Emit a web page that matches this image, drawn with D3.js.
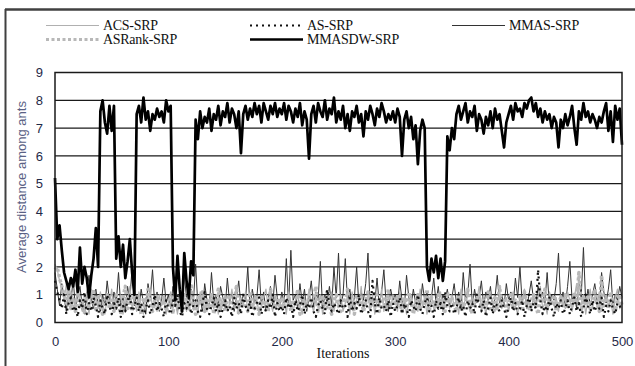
<!DOCTYPE html>
<html>
<head>
<meta charset="utf-8">
<script src="https://cdn.jsdelivr.net/npm/d3@7"></script>
<style>
  body { margin: 0; background: #fff; }
  svg { display: block; }
</style>
</head>
<body>
<div id="chart"></div>
<script>
// values sampled every 2 iterations (0, 2, ..., 500)
const iterations = d3.range(0, 501, 2);
const xTicks = [0, 100, 200, 300, 400, 500];
const yTicks = [0, 1, 2, 3, 4, 5, 6, 7, 8, 9];
const seriesNames = ['ACS-SRP', 'AS-SRP', 'MMAS-SRP', 'ASRank-SRP', 'MMASDW-SRP'];

const acsSrp = [
  2.1,1.9,1.5,1.2,0.8,1.4,0.6,1.1,0.9,0.5,1.3,0.7,0.4,1.0,0.8,0.3,1.2,0.6,0.9,0.5,1.1,0.7,0.3,0.9,0.6,
  1.2,0.4,0.8,0.6,1.0,0.3,0.9,0.7,1.3,0.5,0.8,0.4,1.1,0.6,0.3,0.9,0.7,1.2,0.5,0.8,0.4,1.0,0.6,0.9,0.3,
  0.7,1.1,0.5,0.8,0.3,1.0,0.6,0.9,0.4,1.3,0.7,0.5,0.8,0.3,1.1,0.6,0.9,0.4,0.7,1.0,0.5,0.8,0.3,0.9,0.6,
  1.0,0.4,0.7,1.2,0.5,0.8,0.3,0.9,0.6,1.1,0.4,0.7,0.5,1.0,0.8,0.3,0.6,0.9,1.2,0.5,0.7,0.4,1.0,0.6,0.8,
  0.5,0.9,0.3,1.1,0.7,0.4,0.8,1.0,0.6,0.3,0.9,0.5,1.2,0.7,0.4,0.8,0.6,1.0,0.3,0.7,0.5,0.9,1.1,0.4,0.8,
  0.6,1.0,0.4,0.7,0.9,0.3,1.1,0.5,0.8,0.6,1.3,0.4,0.7,0.9,0.5,1.0,0.3,0.8,0.6,1.2,0.4,0.7,0.9,0.5,1.0,
  0.8,0.4,1.1,0.6,0.9,0.3,0.7,1.0,0.5,0.8,0.4,1.2,0.6,0.9,0.3,0.7,1.0,0.5,0.8,0.6,1.1,0.4,0.7,0.9,0.5,
  1.0,0.6,0.8,0.3,1.2,0.5,0.9,0.7,0.4,1.0,0.6,0.8,1.3,0.5,0.7,0.3,0.9,1.1,0.6,0.4,0.8,1.0,0.5,0.7,0.9,
  0.4,0.8,1.1,0.6,0.3,0.9,0.7,1.2,0.5,0.8,0.4,1.0,0.6,0.9,1.3,0.5,0.7,0.3,1.1,0.8,0.6,0.9,0.4,1.0,0.7,
  0.5,1.1,0.8,0.4,0.9,1.4,0.6,0.7,1.0,0.3,0.8,1.2,0.5,0.9,0.6,1.1,0.4,0.7,1.0,0.6,0.8,0.3,0.9,1.2,0.5,
  0.7
];

const asSrp = [
  1.5,1.1,0.8,0.5,1.0,0.3,0.7,0.9,0.4,0.6,0.2,0.8,0.5,1.1,0.3,0.7,0.4,0.9,0.6,0.2,0.8,0.5,0.3,1.0,0.6,
  0.3,0.7,0.5,0.9,0.2,0.6,0.4,0.8,1.0,0.3,0.6,0.9,0.4,0.7,0.2,0.5,0.8,0.3,0.6,1.0,0.4,0.7,0.5,0.2,0.8,
  0.5,0.3,0.8,0.6,1.0,0.4,0.2,0.7,0.5,0.9,0.3,0.6,0.8,0.4,0.2,0.7,1.1,0.5,0.3,0.6,0.9,0.4,0.7,0.2,0.5,
  0.8,0.4,0.6,0.2,0.9,0.5,0.7,0.3,1.0,0.6,0.4,0.8,0.2,0.5,0.7,0.9,0.3,0.6,0.4,0.8,0.5,1.0,0.2,0.7,0.4,
  0.6,0.3,0.9,0.5,0.7,0.2,0.8,0.4,0.6,1.0,0.3,0.7,0.5,0.9,0.4,0.2,0.6,0.8,0.5,0.3,1.2,0.6,0.4,0.7,0.5,
  0.3,0.8,0.5,0.6,0.2,0.9,0.4,0.7,0.5,1.0,0.3,0.6,0.8,0.4,0.2,1.5,0.7,0.3,0.9,0.5,0.6,0.4,0.8,0.2,0.7,
  0.4,0.6,0.9,0.3,0.7,0.5,0.2,0.8,0.6,0.4,1.0,0.5,0.3,0.7,0.9,0.4,0.6,0.2,0.8,0.5,0.7,0.3,1.1,0.6,0.4,
  0.7,0.3,0.5,0.9,0.4,0.6,0.2,0.8,0.5,0.7,0.3,1.0,0.6,0.4,0.8,0.2,0.5,0.9,0.3,0.7,0.6,0.4,0.8,0.5,0.2,
  0.6,0.9,0.4,0.7,0.3,0.5,0.8,0.2,0.6,1.0,0.4,0.7,0.5,1.9,0.8,0.3,0.6,0.4,0.9,0.5,0.2,0.7,0.5,0.8,0.3,
  0.5,0.8,0.3,0.6,0.9,0.4,0.7,0.2,0.5,1.0,0.6,0.3,0.8,0.4,0.7,0.5,0.9,0.2,0.6,0.4,0.8,0.5,0.3,0.7,0.6,
  0.4
];

const mmasSrp = [
  1.8,1.2,0.6,1.4,0.9,0.4,1.1,0.7,1.6,0.5,0.9,1.3,0.6,0.3,1.0,1.7,0.8,0.5,1.2,0.7,0.4,1.0,0.6,1.5,0.8,
  0.5,1.1,0.7,1.8,0.6,0.9,0.4,1.3,0.8,2.0,0.6,1.0,0.5,1.2,0.7,0.3,1.4,0.9,1.9,0.6,1.1,0.4,0.8,1.6,0.7,
  1.0,0.5,1.3,0.8,0.4,1.1,0.6,1.7,0.9,0.5,1.2,0.7,2.1,0.6,0.9,0.4,1.4,0.8,0.5,1.8,0.7,1.0,0.6,1.3,0.9,
  0.5,1.6,0.7,1.1,0.4,0.9,1.5,0.6,1.0,0.8,2.0,0.5,1.2,0.7,0.9,1.9,0.6,1.1,0.4,0.8,1.3,0.6,1.7,0.9,0.5,
  1.1,0.7,2.3,0.6,2.6,0.8,1.0,0.5,1.4,0.7,1.2,0.4,0.9,1.5,0.6,1.1,0.8,2.2,0.5,1.0,0.7,1.3,0.6,2.0,0.9,
  2.5,0.6,1.0,2.3,0.7,1.2,0.5,0.9,2.0,0.6,1.1,0.8,1.4,2.5,0.5,0.9,0.7,1.6,0.6,1.1,1.9,0.7,0.4,1.2,0.8,
  1.0,0.6,1.5,0.8,0.5,1.7,0.9,0.6,1.2,0.7,1.0,0.5,1.4,0.8,1.1,0.6,0.9,1.6,0.7,1.3,0.5,1.0,0.8,1.2,0.6,
  0.9,1.4,0.7,1.1,0.5,1.8,0.8,1.0,2.1,0.6,1.2,0.7,0.9,1.5,0.6,1.1,0.8,1.3,0.5,0.9,1.7,0.7,1.0,0.6,1.4,
  0.8,1.1,0.6,1.6,0.9,2.0,0.7,1.2,0.5,1.0,1.5,0.8,0.6,1.3,0.9,1.1,0.7,1.8,0.6,1.0,0.8,1.4,2.5,0.7,1.1,
  0.6,1.3,2.2,0.8,1.0,0.5,1.6,0.9,2.7,0.7,1.2,0.6,1.0,1.4,0.8,0.5,1.8,1.1,0.7,1.2,1.9,0.6,1.0,0.8,1.3,
  0.9
];

const asRankSrp = [
  1.9,2.0,1.6,1.3,1.0,0.7,1.2,0.5,0.9,0.4,1.1,0.6,0.8,0.3,1.0,0.5,0.7,1.2,0.4,0.9,0.6,0.3,0.8,1.0,0.5,
  0.8,0.4,1.0,0.6,0.3,0.9,1.3,0.5,0.7,0.4,1.1,0.6,0.8,0.3,0.9,0.5,1.2,0.7,0.4,0.8,1.0,0.5,0.6,0.9,0.4,
  0.6,0.9,0.3,1.1,0.5,0.8,0.4,1.0,0.7,0.5,1.4,0.6,0.3,0.9,0.7,1.1,0.4,0.8,0.6,1.0,0.3,0.7,1.2,0.5,0.8,
  0.4,0.8,1.0,0.5,0.7,1.3,0.3,0.9,0.6,0.8,0.4,1.1,0.7,0.5,0.9,0.3,1.0,0.6,0.8,0.4,1.2,0.7,0.5,0.9,0.6,
  0.9,0.5,0.7,1.0,0.4,0.8,0.6,1.2,0.3,0.9,0.7,0.5,1.0,0.6,0.8,1.3,0.4,0.7,0.9,0.5,1.1,0.6,0.3,0.8,1.0,
  0.6,0.4,0.9,0.7,1.2,0.5,0.8,0.3,1.0,0.6,0.9,0.4,0.7,1.1,0.5,0.8,0.6,1.0,0.4,0.7,0.9,0.5,1.2,0.6,0.8,
  0.5,1.0,0.7,0.4,0.9,0.6,1.1,0.8,0.3,0.7,1.0,0.5,0.8,0.6,1.2,0.4,0.9,0.7,0.5,1.0,0.6,0.8,0.4,1.1,0.7,
  0.9,0.6,0.4,1.0,0.7,0.5,0.8,1.2,0.6,0.3,0.9,0.7,1.0,0.5,0.8,0.6,1.1,0.4,0.7,0.9,0.5,1.3,0.6,0.8,0.4,
  0.7,1.0,0.5,0.8,0.6,0.9,0.4,1.1,0.7,0.5,0.8,1.0,0.6,0.3,0.9,0.7,1.2,0.5,0.8,0.6,1.0,0.4,0.7,0.9,0.6,
  1.0,0.5,0.8,0.6,1.1,0.7,1.8,0.4,0.9,0.6,1.0,0.5,0.8,1.2,0.7,0.4,1.7,0.6,0.9,0.5,1.1,0.7,0.4,0.8,1.0,
  0.6
];

const mmasdwSrp = [
  5.2,3.0,3.5,2.6,1.8,1.5,1.2,1.6,1.3,1.9,1.1,2.7,1.4,2.0,1.6,0.9,1.7,2.3,3.4,2.0,7.6,8.0,7.2,6.8,7.8,
  6.9,7.8,2.3,3.1,2.0,2.8,1.6,2.2,3.0,1.8,1.0,7.5,7.8,7.2,8.1,7.3,7.6,6.9,7.5,7.3,7.7,7.4,7.6,7.2,8.0,
  7.6,7.8,2.0,0.8,2.4,1.2,0.4,2.5,1.5,0.9,2.2,1.7,7.3,6.6,7.6,7.0,7.4,7.2,7.7,6.9,7.5,7.3,7.8,7.1,7.6,
  7.4,7.9,7.2,7.7,7.5,7.0,7.6,6.1,7.5,7.8,7.3,7.7,7.4,7.9,7.5,7.8,7.2,7.9,7.6,7.3,7.8,7.5,7.9,7.4,7.7,
  7.5,7.9,7.3,7.8,7.6,7.2,7.7,7.4,7.9,7.1,7.6,7.3,5.9,7.5,7.8,7.2,7.9,7.6,7.4,8.0,7.3,7.7,7.5,8.1,7.2,
  7.6,7.3,7.8,7.0,7.5,6.9,7.6,7.4,7.8,7.2,7.5,6.7,7.6,7.3,7.8,7.5,7.1,7.7,7.4,7.9,7.6,7.2,7.5,7.3,7.6,
  7.2,7.7,7.4,6.0,7.3,7.6,7.0,7.4,6.6,7.1,5.7,6.9,7.3,7.0,2.0,1.5,2.3,1.8,2.4,1.6,2.3,1.5,2.2,6.7,6.2,
  7.0,6.6,7.5,7.8,7.3,7.6,7.9,7.2,7.6,7.4,7.8,6.9,7.5,7.3,6.8,7.4,7.1,7.6,7.0,7.7,7.3,7.5,6.9,6.3,7.2,
  7.5,7.8,7.3,7.9,7.6,7.7,7.4,7.9,7.7,8.0,8.1,7.6,7.9,7.4,7.7,7.2,7.6,7.3,7.5,7.0,7.4,7.2,6.3,7.3,7.0,
  7.5,7.1,7.4,7.8,7.0,6.4,7.6,7.3,7.9,7.4,7.6,7.2,7.5,7.3,7.0,7.4,7.2,7.6,7.9,6.9,7.6,6.5,7.8,7.3,7.7,
  6.4
];

const width = 635, height = 366;
const margin = { top: 72.5, right: 13, bottom: 43.5, left: 55 };

const svg = d3.select('#chart')
  .append('svg')
  .attr('width', width)
  .attr('height', height);

// outer frame (top and left edges visible)
svg.append('line')
  .attr('x1', 5).attr('x2', width).attr('y1', 9.5).attr('y2', 9.5)
  .attr('stroke', '#404040').attr('stroke-width', 2.5);
svg.append('line')
  .attr('x1', 5.5).attr('x2', 5.5).attr('y1', 9).attr('y2', height)
  .attr('stroke', '#404040').attr('stroke-width', 2);

const x = d3.scaleLinear()
  .domain([0, 500])
  .range([margin.left, width - margin.right]);

const y = d3.scaleLinear()
  .domain([0, 9])
  .range([height - margin.bottom, margin.top]);

// gridlines
svg.append('g')
  .selectAll('line')
  .data(yTicks.slice(1, -1))
  .enter()
  .append('line')
  .attr('x1', x(0)).attr('x2', x(500))
  .attr('y1', d => y(d)).attr('y2', d => y(d))
  .attr('stroke', '#1a1a1a')
  .attr('stroke-width', 1.3);

const line = d3.line()
  .x((d, i) => x(iterations[i]))
  .y(d => y(d));

const styles = {
  'MMAS-SRP': { data: mmasSrp, color: '#333', width: 1, dash: null },
  'ACS-SRP': { data: acsSrp, color: '#b0b0b0', width: 1.2, dash: null },
  'ASRank-SRP': { data: asRankSrp, color: '#b8b8b8', width: 3.5, dash: '3,2.5' },
  'AS-SRP': { data: asSrp, color: '#111', width: 2.2, dash: '2,4' },
  'MMASDW-SRP': { data: mmasdwSrp, color: '#000', width: 2.7, dash: null }
};

const plot = svg.append('g');
['MMAS-SRP', 'ACS-SRP', 'ASRank-SRP', 'AS-SRP', 'MMASDW-SRP'].forEach(name => {
  const s = styles[name];
  plot.append('path')
    .datum(s.data)
    .attr('d', line)
    .attr('fill', 'none')
    .attr('stroke', s.color)
    .attr('stroke-width', s.width)
    .attr('stroke-linejoin', 'round')
    .attr('stroke-dasharray', s.dash);
});

// plot frame
svg.append('rect')
  .attr('x', x(0)).attr('y', y(9))
  .attr('width', x(500) - x(0))
  .attr('height', y(0) - y(9))
  .attr('fill', 'none')
  .attr('stroke', '#1a1a1a')
  .attr('stroke-width', 1.5);

// y axis
const yAxis = svg.append('g')
  .attr('transform', `translate(${x(0)},0)`)
  .call(d3.axisLeft(y).tickValues(yTicks).tickSize(0).tickPadding(12));
yAxis.select('.domain').remove();
yAxis.selectAll('text')
  .style('font-family', '"Liberation Sans", Arial, sans-serif')
  .style('font-size', '13px')
  .style('fill', '#1f2a48');

// x axis
const xAxis = svg.append('g')
  .attr('transform', `translate(0,${y(0)})`)
  .call(d3.axisBottom(x).tickValues(xTicks).tickSize(0).tickPadding(14));
xAxis.select('.domain').remove();
xAxis.selectAll('text')
  .style('font-family', '"Liberation Sans", Arial, sans-serif')
  .style('font-size', '13px')
  .style('fill', '#1f2a48');

svg.append('text')
  .attr('x', 343).attr('y', 358)
  .attr('text-anchor', 'middle')
  .style('font-family', '"Liberation Serif", "Times New Roman", serif')
  .style('font-size', '14px')
  .style('fill', '#111')
  .text('Iterations');

svg.append('text')
  .attr('transform', 'translate(26,187) rotate(-90)')
  .attr('text-anchor', 'middle')
  .style('font-family', '"Liberation Sans", Arial, sans-serif')
  .style('font-size', '13px')
  .style('fill', '#5a6184')
  .text('Average distance among ants');

// legend
const legendItems = [
  { name: 'ACS-SRP', x: 46, y: 25.5 },
  { name: 'AS-SRP', x: 250, y: 25.5 },
  { name: 'MMAS-SRP', x: 452, y: 25.5 },
  { name: 'ASRank-SRP', x: 46, y: 39.5 },
  { name: 'MMASDW-SRP', x: 250, y: 39.5 }
];
const legend = svg.append('g');
legendItems.forEach(item => {
  const s = styles[item.name];
  legend.append('line')
    .attr('x1', item.x).attr('x2', item.x + 53)
    .attr('y1', item.y).attr('y2', item.y)
    .attr('stroke', s.color)
    .attr('stroke-width', s.width === 1 ? 1.2 : Math.min(s.width, 3))
    .attr('stroke-dasharray', s.dash);
  legend.append('text')
    .attr('x', item.x + 57).attr('y', item.y + 4.5)
    .style('font-family', '"Liberation Serif", "Times New Roman", serif')
    .style('font-size', '14px')
    .style('letter-spacing', '-0.3px')
    .style('fill', '#111')
    .text(item.name);
});
</script>
</body>
</html>
